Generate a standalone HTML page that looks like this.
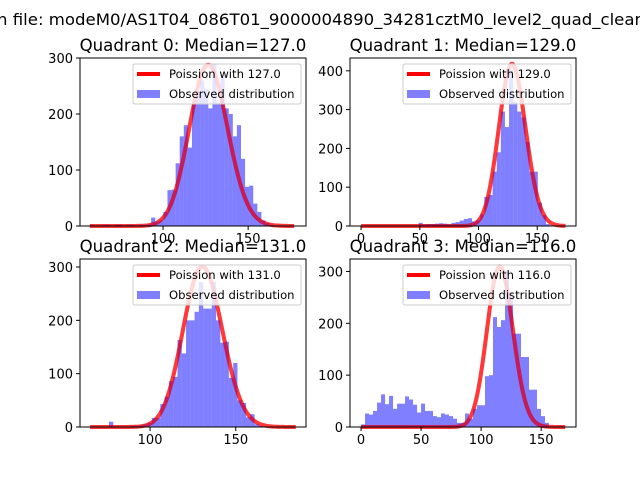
<!DOCTYPE html>
<html><head><meta charset="utf-8"><style>
html,body{margin:0;padding:0;background:#fff;}
svg{display:block;font-family:"DejaVu Sans","Liberation Sans",sans-serif;}
</style></head><body>
<svg id="fig" width="640" height="480" viewBox="0 0 640 480" xmlns="http://www.w3.org/2000/svg">
<text x="-3" y="25" font-size="16" textLength="648" lengthAdjust="spacingAndGlyphs">n file: modeM0/AS1T04_086T01_9000004890_34281cztM0_level2_quad_clean</text>
</svg>
<script>
// ---- data ----
const titles = ["Quadrant 0: Median=127.0","Quadrant 1: Median=129.0","Quadrant 2: Median=131.0","Quadrant 3: Median=116.0"];
const medians = [127.0, 129.0, 131.0, 116.0];
const curvePeaks = [288, 418, 301, 310];
const curveStart = [57, 0, 65, 0];
const curveEnd = [177, 174, 185, 170];
const binStart = [57, 0, 63.5, 0];
const binWidth = [2.4, 3.5, 2.5, 3.33];
const counts0 = [2,0,0,2,2,0,2,2,0,2,2,0,2,2,3,15,8,10,25,64,65,112,160,180,140,220,240,260,245,210,290,220,270,210,200,160,180,120,70,72,40,25,10,5,2,0,0,0,0,0];
const counts1 = [1,0,0,0,0,0,0,0,0,0,0,0,0,0,8,4,5,5,6,7,6,4,8,10,14,18,20,12,15,30,75,80,140,190,295,255,402,320,295,280,217,140,140,60,28,5,0,0,0,0];
const counts2 = [0,0,0,0,0,10,0,0,0,0,2,2,3,5,8,17,17,43,57,86,94,163,138,200,200,216,272,222,222,272,200,158,160,92,120,50,45,18,24,5,2,0,0,0,0,0,0,0,0,0];
const counts3 = [5,26,24,31,47,63,44,60,35,45,45,59,53,43,28,45,31,31,21,19,26,24,21,16,8,8,26,16,35,42,42,98,100,212,193,206,302,260,180,180,135,135,72,72,35,21,8,0,0,0];
const xTicks0 = [100,150];
const xTicks1 = [0,50,100,150];
const yTicks0 = [0,100,200,300];
const yTicks1 = [0,100,200,300,400];
const legendLine = ["Poission with 127.0","Poission with 129.0","Poission with 131.0","Poission with 116.0"];
const legendHist = "Observed distribution";

const allCounts = [counts0, counts1, counts2, counts3];
const xTicksAll = [xTicks0, xTicks1, xTicks0, xTicks1];
const yTicksAll = [yTicks0, yTicks1, yTicks0, yTicks0];
// axes geometry
const boxes = [[80,58,306,226],[350,58,576,226],[80,259,306,427],[350,259,576,427]];
const xdom = [[51.2,184],[-9.4,183],[59.1,191],[-9.2,179]];
const ydom = [[0,300],[0,433],[0,315],[0,324]];

const NS = "http://www.w3.org/2000/svg";
const svg = document.getElementById('fig');
function mk(tag, attrs, parent){const e=document.createElementNS(NS,tag);for(const k in attrs)e.setAttribute(k,attrs[k]);(parent||svg).appendChild(e);return e;}
function lfact(n){let s=0;for(let i=2;i<=n;i++)s+=Math.log(i);return s;}

for(let p=0;p<4;p++){
  const [L,T,R,B]=boxes[p];
  const xs=v=>L+(v-xdom[p][0])/(xdom[p][1]-xdom[p][0])*(R-L);
  const ys=v=>B-(v-ydom[p][0])/(ydom[p][1]-ydom[p][0])*(B-T);
  const g=mk('g',{});
  
  
  const lam=medians[p], amp=curvePeaks[p]*Math.sqrt(2*Math.PI*lam);
  let d='';
  for(let k=curveStart[p];k<=curveEnd[p];k++){
    const v=amp*Math.exp(k*Math.log(lam)-lam-lfact(k));
    d+=(d?'L':'M')+xs(k).toFixed(2)+','+ys(v).toFixed(2);
  }
  const c=mk('path',{d:d,fill:'none',stroke:'#ff0000','stroke-width':4,'stroke-opacity':0.5,'stroke-linejoin':'round'},g);
  
  
  const cs=allCounts[p];
  for(let i=0;i<cs.length;i++){
    if(cs[i]<=0)continue;
    const x0=xs(binStart[p]+i*binWidth[p]), x1=xs(binStart[p]+(i+1)*binWidth[p]);
    const r=mk('rect',{x:x0,y:ys(cs[i]),width:x1-x0,height:B-ys(cs[i]),fill:'#0000ff','fill-opacity':0.5},g);
    
    
  }
  const c2=mk('path',{d:d,fill:'none',stroke:'#ff0000','stroke-width':4,'stroke-opacity':0.55,'stroke-linejoin':'round'},g);
  
  
  const f=mk('rect',{x:L,y:T,width:R-L,height:B-T,fill:'none',stroke:'#000','stroke-width':1},g);
  
  
  for(const t of xTicksAll[p]){
    const x=xs(t);
    mk('line',{x1:x,x2:x,y1:B,y2:B+4,stroke:'#000'},g);
    const tx=mk('text',{x:x,y:B+17,'font-size':13,'text-anchor':'middle'},g);
    tx.textContent=t;
    
    
  }
  for(const t of yTicksAll[p]){
    const y=ys(t);
    mk('line',{x1:L-4,x2:L,y1:y,y2:y,stroke:'#000'},g);
    const ty=mk('text',{x:L-7,y:y+5,'font-size':13,'text-anchor':'end'},g);
    ty.textContent=t;
    
    
  }
  const tt=mk('text',{x:(L+R)/2,y:T-7,'font-size':16.6,'text-anchor':'middle'},g);
  tt.textContent=titles[p];
  
  
  const lg=mk('g',{},g);
  
  
  mk('rect',{x:L+53,y:T+6,width:168,height:40,rx:2,fill:'#fff','fill-opacity':0.8,stroke:'#ccc'},lg);
  mk('line',{x1:L+57,x2:L+80,y1:T+16,y2:T+16,stroke:'#ff0000','stroke-width':4},lg);
  mk('rect',{x:L+57,y:T+32,width:23,height:8,fill:'#0000ff','fill-opacity':0.5},lg);
  const l1=mk('text',{x:L+89,y:T+20,'font-size':11.6},lg); l1.textContent=legendLine[p];
  
  
  const l2=mk('text',{x:L+89,y:T+40,'font-size':11.6},lg); l2.textContent=legendHist;
  
  
}
</script>
</body></html>
